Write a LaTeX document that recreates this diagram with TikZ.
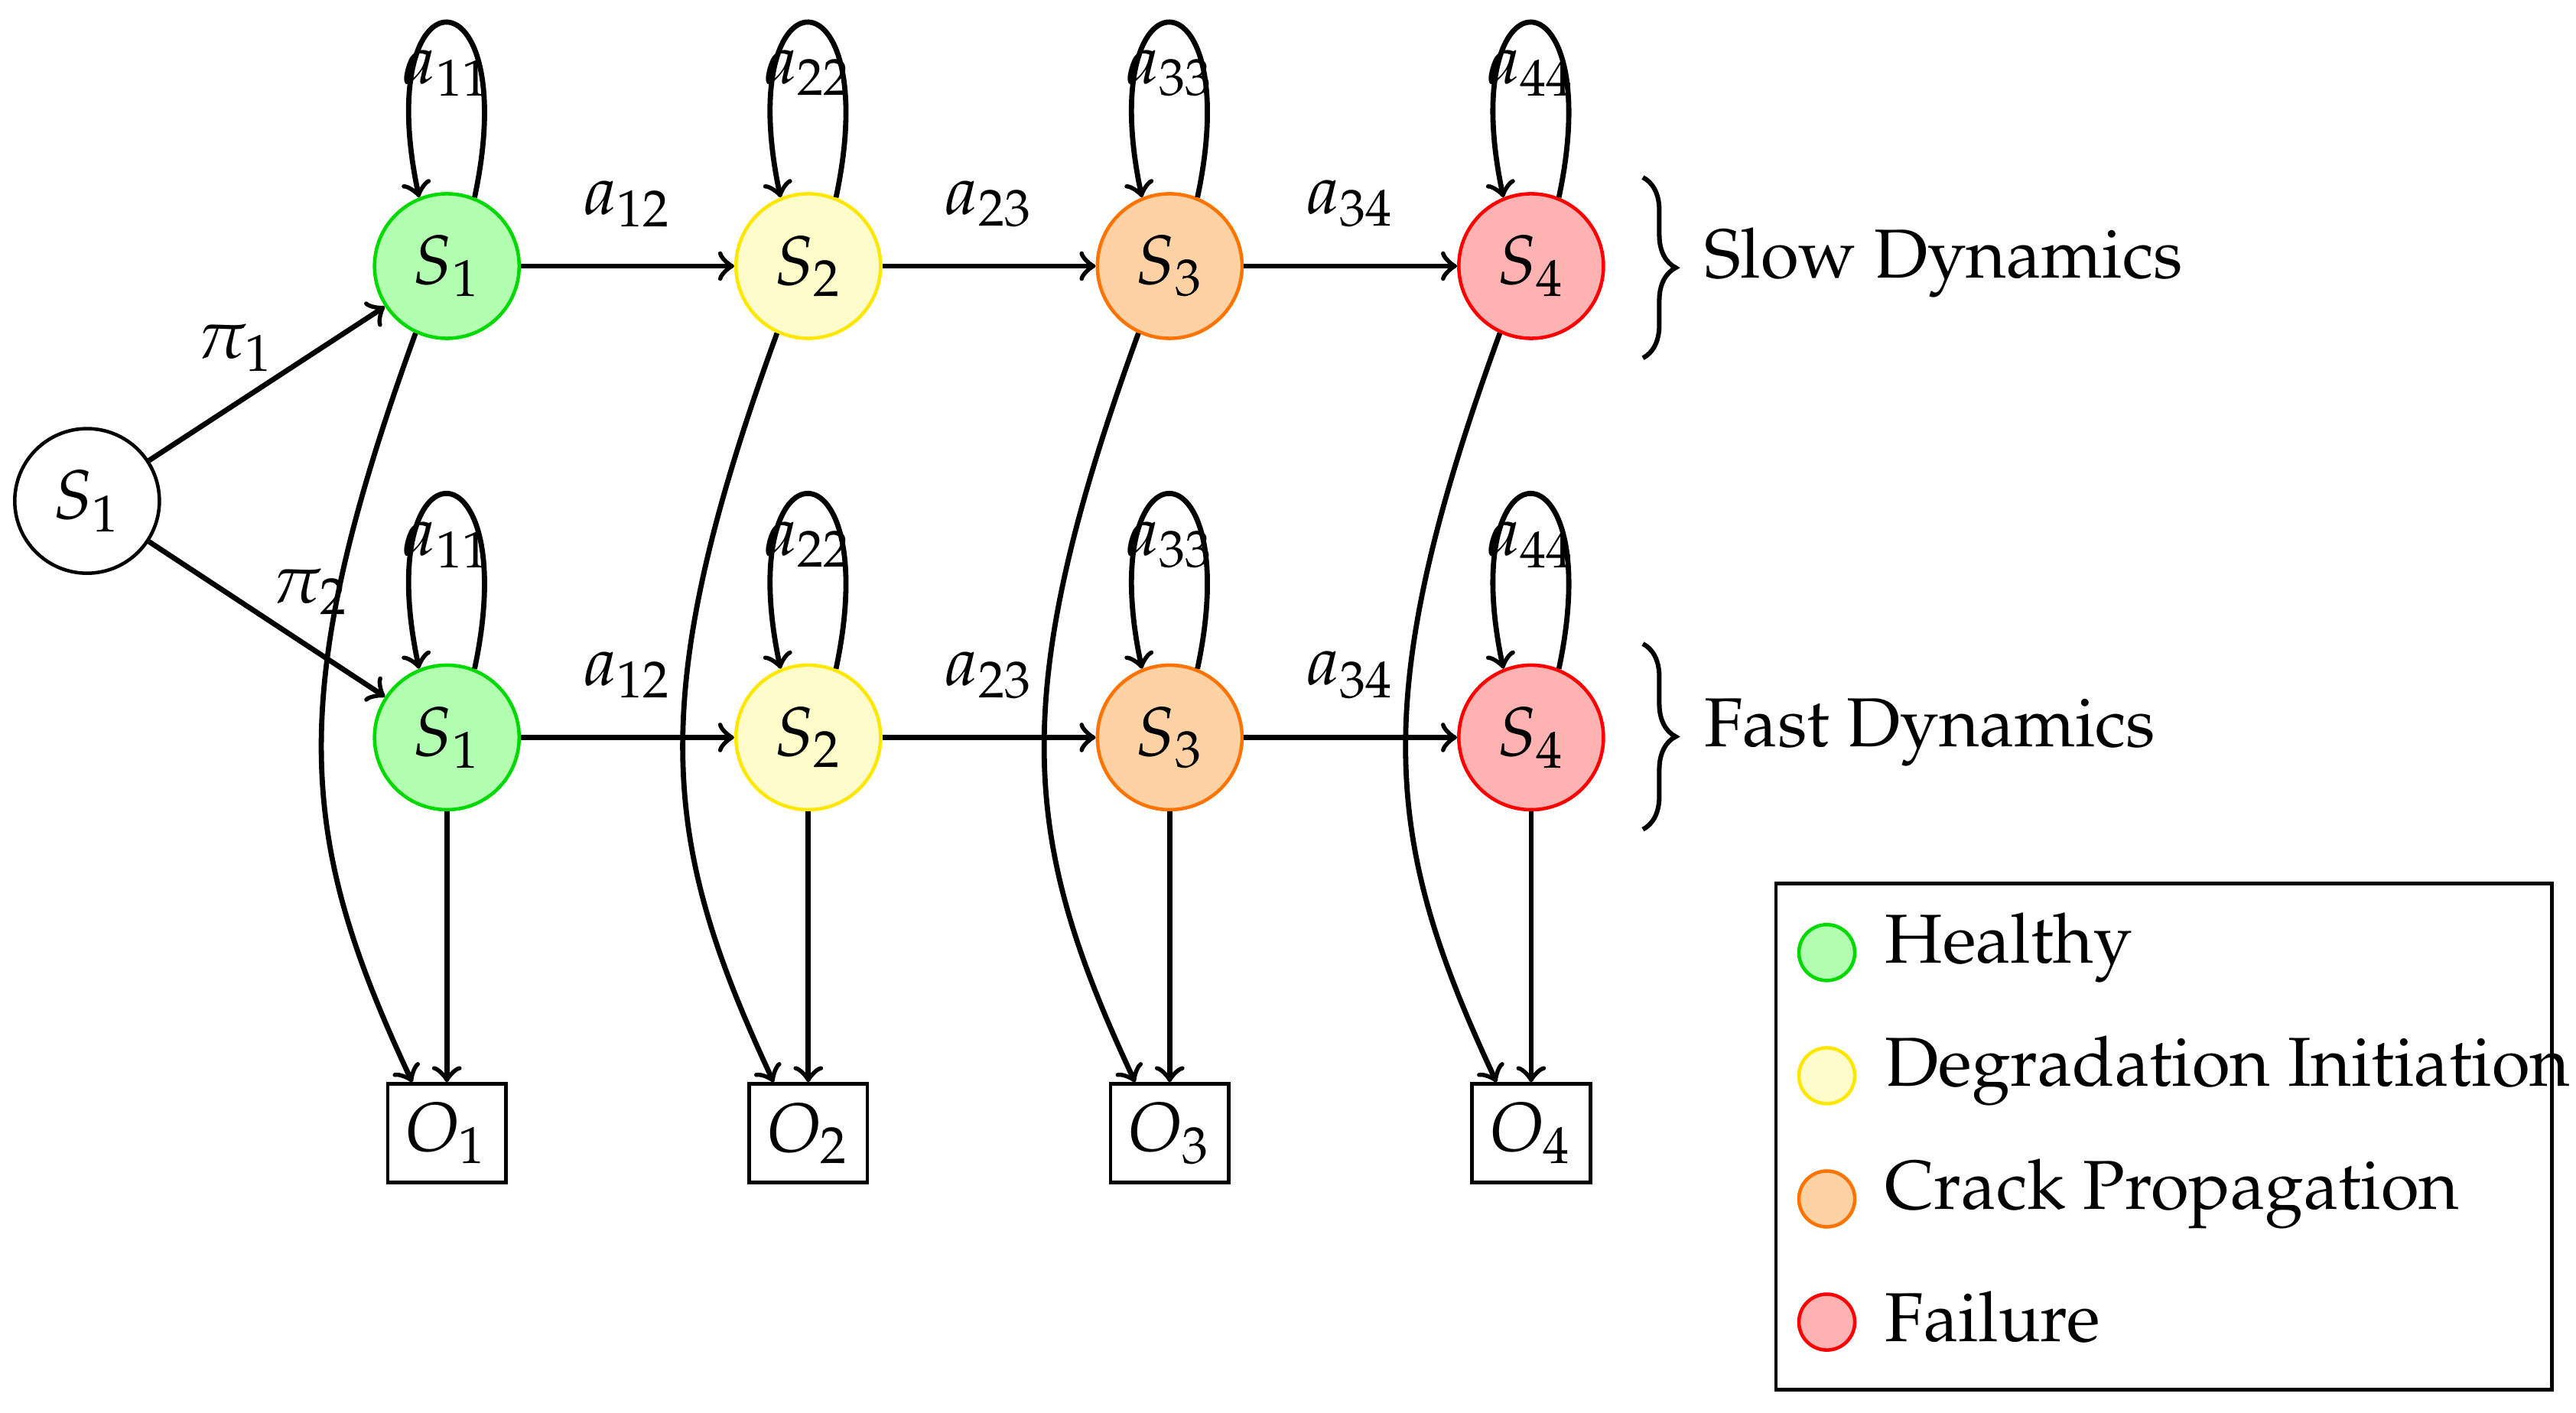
\documentclass[tikz,border=0pt]{standalone}
\usepackage[T1]{fontenc}
\usepackage{mathpazo}
\usetikzlibrary{decorations.pathreplacing}
\begin{document}
\begin{tikzpicture}[x=0.01cm,y=-0.01cm,
  st/.style={circle,draw,minimum size=0.88cm,inner sep=0pt,line width=0.6pt,font=\fontsize{12}{14}\selectfont},
  ob/.style={draw,minimum width=0.72cm,minimum height=0.6cm,inner sep=0pt,line width=0.6pt,font=\fontsize{12}{14}\selectfont},
  ar/.style={->,line width=0.9pt},
  lb/.style={font=\fontsize{12}{14}\selectfont},
  txt/.style={font=\fontsize{12}{14}\selectfont,anchor=west},
  cg/.style={st,draw=green!85!black,fill=green!30},
  cy/.style={st,draw=yellow!90!orange,fill=yellow!20},
  co/.style={st,draw=orange!90!red,fill=orange!35},
  cr/.style={st,draw=red,fill=red!30}]
\useasboundingbox (0,0) rectangle (1568,860);
\node[st] (s0) at (53,305) {$S_1$};
\foreach \r/\yy in {a/162,b/449}{
  \node[cg] (\r1) at (272,\yy) {$S_1$};
  \node[cy] (\r2) at (492,\yy) {$S_2$};
  \node[co] (\r3) at (712,\yy) {$S_3$};
  \node[cr] (\r4) at (932,\yy) {$S_4$};
}
\foreach \i/\x in {1/272,2/492,3/712,4/932}{
  \node[ob] (o\i) at (\x,690) {$O_\i$};
  \foreach \r in {a,b}{
    \draw[ar] (\r\i.68) .. controls +(78:1.45cm) and +(102:1.45cm) .. (\r\i.112) node[pos=0.5,below=1pt,lb] {$a_{\i\i}$};
  }
  \draw[ar] (b\i) -- (o\i);
  \draw[ar] (a\i.245) .. controls +(250:2.4cm) and +(115:1.6cm) .. ([xshift=0.16cm]o\i.north west);
}
\foreach \r in {a,b}{
  \draw[ar] (\r1) -- node[above=3pt,lb]{$a_{12}$} (\r2);
  \draw[ar] (\r2) -- node[above=3pt,lb]{$a_{23}$} (\r3);
  \draw[ar] (\r3) -- node[above=3pt,lb]{$a_{34}$} (\r4);
}
\draw[ar] (s0) -- node[above left=-3pt,lb,pos=0.55]{$\pi_1$} (a1);
\draw[ar] (s0) -- node[above right=-3pt,lb,pos=0.5]{$\pi_2$} (b1);
\draw[decorate,decoration={brace,amplitude=0.2cm},line width=0.8pt] (1000,108) -- (1000,218);
\draw[decorate,decoration={brace,amplitude=0.2cm},line width=0.8pt] (1000,392) -- (1000,505);
\node[txt] (t1) at (1025,160) {Slow Dynamics};
\node[txt] (t2) at (1025,446) {Fast Dynamics};
\node[draw,line width=0.6pt,minimum width=4.72cm,minimum height=3.08cm,anchor=north west] (leg) at (1080,537) {};
\foreach \c/\yy/\t in {cg/580/Healthy,cy/655/Degradation Initiation,co/730/Crack Propagation,cr/805/Failure}{
  \node[\c,minimum size=0.34cm] (l\yy) at (1112,\yy) {};
  \node[txt] at (1135,\yy-3) {\t};
}
\end{tikzpicture}
\end{document}
